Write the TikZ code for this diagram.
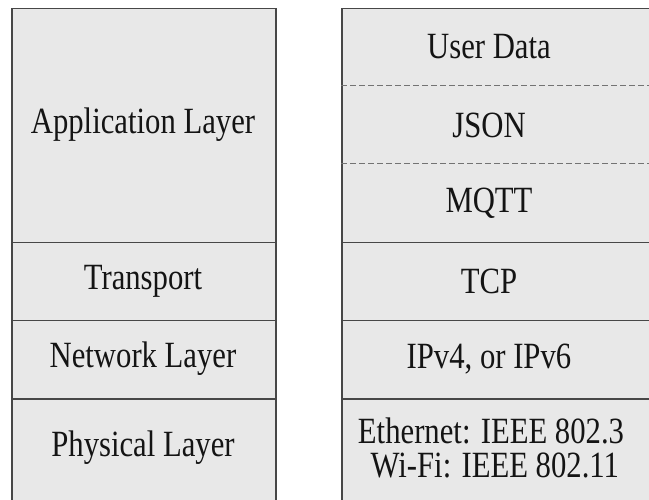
\documentclass[tikz,border=0pt]{standalone}
\usepackage{fontspec}
\setmainfont{Liberation Serif}[FakeStretch=0.83]
\begin{document}
\begin{tikzpicture}[x=1pt,y=1pt,
  cell/.style={draw=black!72, line width=1.5pt, fill=black!9, inner sep=0pt, anchor=north west},
  lbl/.style={font=\fontsize{37}{34}\selectfont, text=black!92, align=center, inner sep=0pt},
  sep/.style={draw=black!55, line width=1pt, dash pattern=on 6pt off 3pt}]
\useasboundingbox (0,0) rectangle (649,499);
\clip (0,0) rectangle (649,499);
% left column
\node[cell, minimum width=264pt, minimum height=234pt] (app) at (11,491) {};
\node[cell, minimum width=264pt, minimum height=78pt] (trans) at (11,257) {};
\node[cell, minimum width=264pt, minimum height=78pt] (net) at (11,179) {};
\node[cell, minimum width=264pt, minimum height=115pt] (phys) at (11,101) {};
% right column
\node[cell, minimum width=330pt, minimum height=234pt] (rapp) at (341,491) {};
\node[cell, minimum width=330pt, minimum height=78pt] (tcp) at (341,257) {};
\node[cell, minimum width=330pt, minimum height=78pt] (ip) at (341,179) {};
\node[cell, minimum width=330pt, minimum height=115pt] (eth) at (341,101) {};
\coordinate (d1a) at (341,413); \coordinate (d1b) at (660,413);
\coordinate (d2a) at (341,335); \coordinate (d2b) at (660,335);
\draw[sep] (d1a) -- (d1b);
\draw[sep] (d2a) -- (d2b);
% labels
\node[lbl] (tapp) at (143,374) {Application Layer};
\node[lbl] (ttrans) at (143,218) {Transport};
\node[lbl] (tnet) at (143,140) {Network Layer};
\node[lbl] (tphys) at (143,51) {Physical Layer};
\node[lbl] (tud) at (489,452) {User Data};
\node[lbl] (tjson) at (489,374) {JSON};
\node[lbl] (tmqtt) at (489,296) {MQTT};
\node[lbl] (ttcp) at (489,218) {TCP};
\node[lbl] (tip) at (489,140) {IPv4, or IPv6};
\node[lbl] (teth) at (491,51) {Ethernet: IEEE 802.3\\\ Wi-Fi: IEEE 802.11};
\end{tikzpicture}
\end{document}
